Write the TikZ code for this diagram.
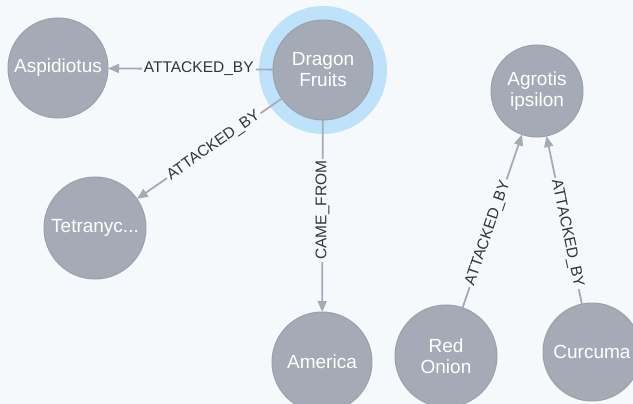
\documentclass[tikz,border=0pt]{standalone}
\usepackage{fontspec}
\setmainfont{Liberation Sans}
\usetikzlibrary{arrows.meta}
\definecolor{bg}{RGB}{246,249,252}
\definecolor{nodegray}{RGB}{165,171,182}
\definecolor{nodeedge}{RGB}{154,161,172}
\definecolor{halo}{RGB}{190,226,249}
\definecolor{lbltext}{RGB}{51,51,51}
\begin{document}
\begin{tikzpicture}[x=1pt,y=-1pt,
  gnode/.style={circle, fill=nodegray, draw=nodeedge, line width=1pt, text=white,
    font=\fontsize{19}{21}\selectfont, align=center, inner sep=0pt, outer sep=0pt},
  edge/.style={draw=nodegray, line width=1.8pt, -{Triangle[length=11pt,width=9pt]}},
  lbl/.style={fill=bg, text=lbltext, font=\fontsize{15.5}{17}\selectfont, inner sep=2pt}]
\clip (0,0) rectangle (633,404);
\fill[bg] (0,0) rectangle (633,404);
\fill[halo] (323,70) circle (64pt);
\node[gnode, minimum size=100pt] (asp) at (58,68) {Aspidiotus};
\node[gnode, minimum size=100pt] (drag) at (323,70) {Dragon\\Fruits};
\node[gnode, minimum size=102pt] (tet) at (95,228) {Tetranyc...};
\node[gnode, minimum size=100pt] (amer) at (322,362) {America};
\node[gnode, minimum size=92pt] (agro) at (537,91) {Agrotis\\ipsilon};
\node[gnode, minimum size=102pt] (red) at (446,356) {Red\\Onion};
\node[gnode, minimum size=98pt] (curc) at (592,352) {Curcuma};
\draw[edge] (drag) -- node[lbl, pos=0.45] {ATTACKED\_BY} (asp);
\draw[edge] (drag) -- node[lbl, pos=0.47, rotate=35] {ATTACKED\_BY} (tet);
\draw[edge] (drag) -- node[lbl, pos=0.47, rotate=90] {CAME\_FROM} (amer);
\draw[edge] (red) -- node[lbl, pos=0.43, rotate=71] {ATTACKED\_BY} (agro);
\draw[edge] (curc) -- node[lbl, pos=0.42, rotate=-78] {ATTACKED\_BY} (agro);
\end{tikzpicture}
\end{document}
